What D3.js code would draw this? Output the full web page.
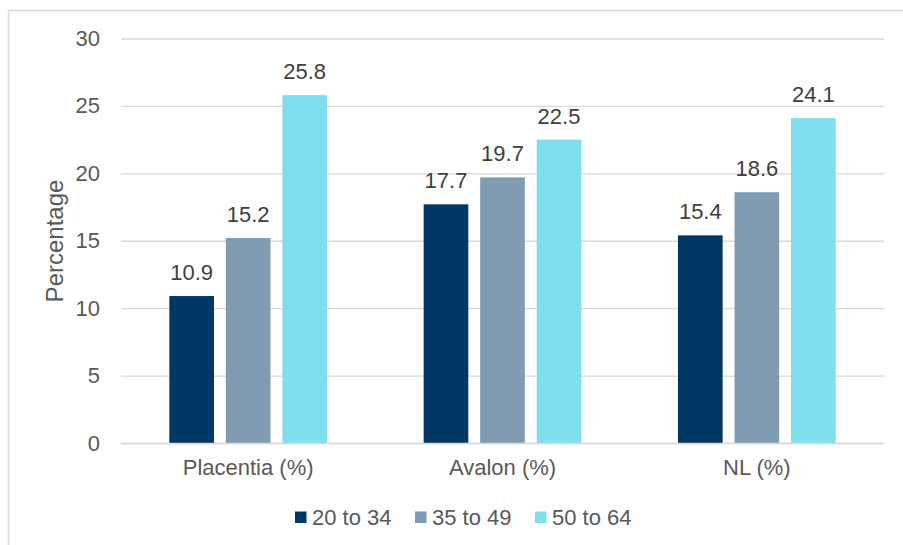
<!DOCTYPE html>
<html><head><meta charset="utf-8">
<script src="https://cdn.jsdelivr.net/npm/d3@7"></script>
<style>body{margin:0;background:#fff}svg{display:block;font-family:Arial,"Liberation Sans",sans-serif}</style>
</head><body>
<svg id="c" width="903" height="545"></svg>
<script>
const categories = ["Placentia (%)", "Avalon (%)", "NL (%)"];
const seriesNames = ["20 to 34", "35 to 49", "50 to 64"];
const series1 = [10.9, 17.7, 15.4];
const series2 = [15.2, 19.7, 18.6];
const series3 = [25.8, 22.5, 24.1];
const yTicks = [0, 5, 10, 15, 20, 25, 30];
const colors = ["#003865", "#7f9cb3", "#80dfef"];

const allSeries = [series1, series2, series3];
const svg = d3.select("#c");
const W = 903, H = 545;
const m = {left: 121, right: 19, top: 38.5, bottom: 102};
const FS = 22;

svg.append("rect").attr("x", 8.5).attr("y", 10.5).attr("width", 2000).attr("height", 2000)
  .attr("fill", "none").attr("stroke", "#d9d9d9").attr("stroke-width", 1.5);

const x0 = d3.scaleBand().domain(categories).range([m.left, W - m.right]).paddingInner(0).paddingOuter(0);
const y = d3.scaleLinear().domain([0, 30]).range([H - m.bottom, m.top]);
const x1 = d3.scaleBand().domain(seriesNames).range([0, x0.bandwidth() * 0.62]).paddingInner(0.21);
const groupOff = (x0.bandwidth() - x0.bandwidth() * 0.62) / 2;

// grid
const yAxis = d3.axisLeft(y).tickValues(yTicks).tickSize(-(W - m.right - m.left)).tickPadding(21);
const ga = svg.append("g").attr("transform", `translate(${m.left},0)`).call(yAxis);
ga.select(".domain").remove();
ga.selectAll(".tick line").attr("stroke", "#d9d9d9").attr("stroke-width", 1.3);
ga.selectAll(".tick text").attr("fill", "#595959").attr("font-size", FS).attr("font-family", "Arial, 'Liberation Sans', sans-serif");

// bars
const groups = svg.append("g").selectAll("g").data(categories).join("g")
  .attr("transform", d => `translate(${x0(d) + groupOff},0)`);
groups.each(function(cat, ci) {
  const g = d3.select(this);
  seriesNames.forEach((s, si) => {
    const v = allSeries[si][ci];
    g.append("rect").attr("x", x1(s)).attr("y", y(v)).attr("width", x1.bandwidth())
      .attr("height", y(0) - y(v)).attr("fill", colors[si]);
    g.append("text").attr("x", x1(s) + x1.bandwidth() / 2).attr("y", y(v) - 16)
      .attr("text-anchor", "middle").attr("font-size", FS).attr("fill", "#404040").text(v.toFixed(1));
  });
});

// x axis
const xAxis = d3.axisBottom(x0).tickSize(0).tickPadding(16);
const gx = svg.append("g").attr("transform", `translate(0,${y(0)})`).call(xAxis);
gx.select(".domain").attr("stroke", "#d9d9d9").attr("stroke-width", 1.3);
gx.selectAll(".tick text").attr("fill", "#595959").attr("font-size", FS).attr("font-family", "Arial, 'Liberation Sans', sans-serif");

// y label
svg.append("text").attr("transform", `translate(63,241) rotate(-90)`).attr("text-anchor", "middle")
  .attr("font-size", 24).attr("fill", "#595959").text("Percentage");

// legend
const legX = [295, 415, 535];
const lg = svg.append("g").selectAll("g").data(seriesNames).join("g")
  .attr("transform", (d, i) => `translate(${legX[i]},511.5)`);
lg.append("rect").attr("width", 11.5).attr("height", 11.5).attr("fill", (d, i) => colors[i]);
lg.append("text").attr("x", 17).attr("y", 13.5).attr("font-size", FS).attr("fill", "#595959").text(d => d);
</script>
</body></html>
